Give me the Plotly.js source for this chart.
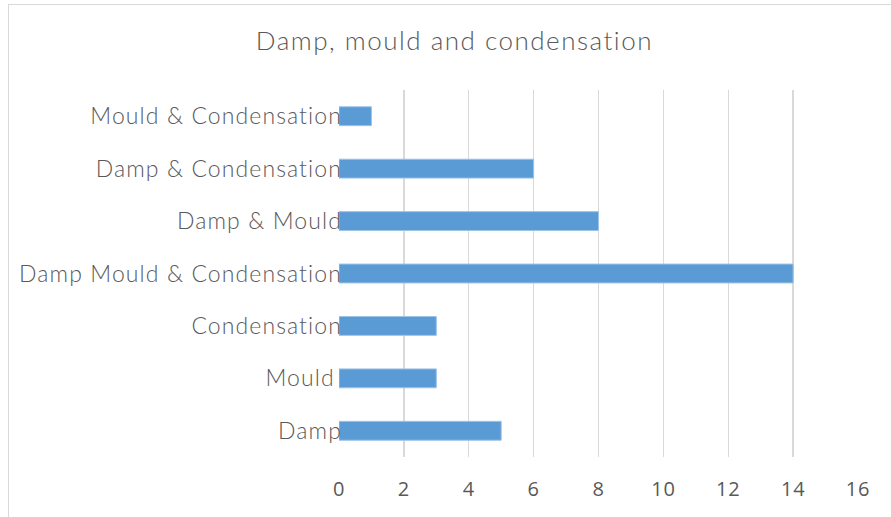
<!DOCTYPE html>
<html>
<head>
<meta charset="utf-8">
<script src="https://cdn.plot.ly/plotly-3.0.1.min.js"></script>
<style>
html,body{margin:0;padding:0;background:#fff;}
#frame{position:absolute;left:8px;top:4px;width:900px;height:600px;border-left:1.5px solid #d9d9d9;border-top:1.5px solid #d9d9d9;pointer-events:none;}
#chart{position:absolute;left:0;top:0;width:891px;height:517px;}
#chart .ytick text{letter-spacing:1.1px;}
#chart .gtitle{letter-spacing:1.5px;}
#chart .xtick text{letter-spacing:0.8px;}
</style>
</head>
<body>
<div id="chart"></div>
<div id="frame"></div>
<script>
var categories = ["Damp", "Mould ", "Condensation", "Damp Mould & Condensation", "Damp & Mould", "Damp & Condensation", "Mould & Condensation"];
var counts = [5, 3, 3, 14, 8, 6, 1];
var xTicks = [0, 2, 4, 6, 8, 10, 12, 14, 16];

var trace = {
  type: "bar",
  orientation: "h",
  y: categories,
  x: counts,
  marker: {color: "#5B9BD5", line: {color: "#9DC3E6", width: 1}},
  hoverinfo: "x+y"
};

var layout = {
  width: 891,
  height: 517,
  margin: {l: 339, r: 33, t: 90, b: 60},
  paper_bgcolor: "#ffffff",
  plot_bgcolor: "#ffffff",
  showlegend: false,
  bargap: 0.64,
  title: {
    text: "Damp, mould and condensation",
    font: {family: "Lato", size: 26, color: "#595959", weight: 300},
    x: 0.51, xanchor: "center", y: 0.92, yanchor: "middle"
  },
  xaxis: {
    range: [0, 16],
    tickvals: xTicks,
    ticktext: xTicks.map(String),
    showgrid: true,
    gridcolor: "#d9d9d9",
    gridwidth: 1.3,
    zeroline: false,
    showline: false,
    ticks: "",
    ticklabelstandoff: 18,
    tickfont: {family: "Open Sans", size: 20, color: "#595959"},
    fixedrange: true
  },
  yaxis: {
    type: "category",
    categoryorder: "array",
    categoryarray: categories,
    showgrid: false,
    zeroline: false,
    showline: false,
    ticks: "",
    ticklabelstandoff: -4,
    tickfont: {family: "Lato", size: 23, color: "#595959", weight: 300},
    fixedrange: true
  }
};

Plotly.newPlot("chart", [trace], layout, {displayModeBar: false, staticPlot: true});
</script>
</body>
</html>
